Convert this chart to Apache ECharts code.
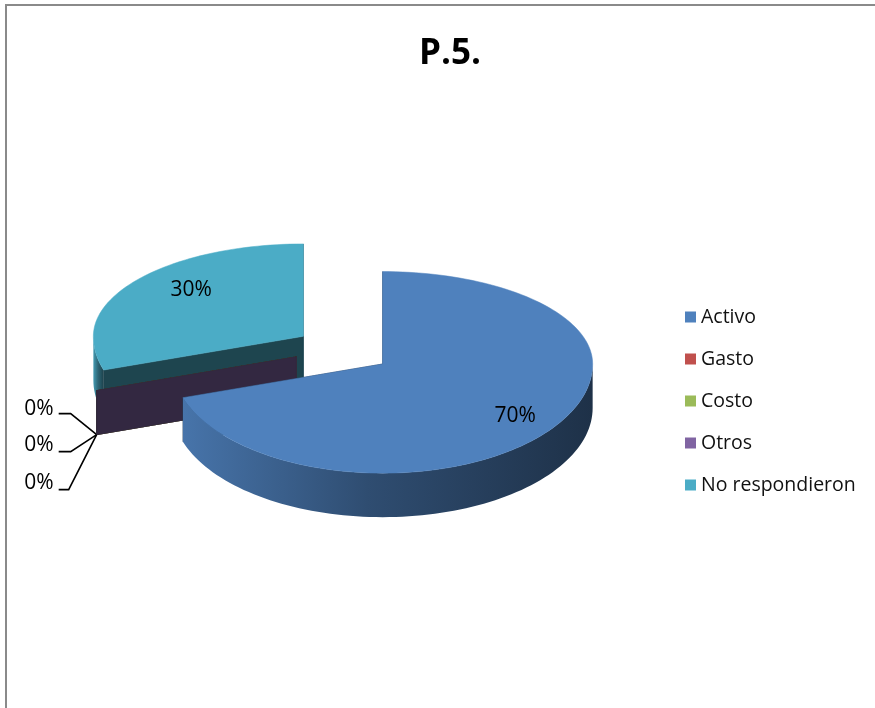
<!DOCTYPE html>
<html>
<head>
<meta charset="utf-8">
<script src="https://cdn.jsdelivr.net/npm/echarts@6/dist/echarts.min.js"></script>
<style>
  html, body { margin: 0; padding: 0; background: #ffffff; }
  #chart { width: 875px; height: 708px; }
</style>
</head>
<body>
<div id="chart"></div>
<script>
// ---- data ----
const title = 'P.5.';
const categories = ['Activo', 'Gasto', 'Costo', 'Otros', 'No respondieron'];
const values = [70, 0, 0, 0, 30];
const colors = ['#4F81BD', '#C0504D', '#9BBB59', '#8064A2', '#4BACC6'];

// ---- style ----
const FONT = '"Open Sans", "Liberation Sans", sans-serif';
const K_BACK = 0.44;       // vertical squash, far half of the tilted pie
const K_FRONT = 0.52;      // vertical squash, near half of the tilted pie
const DEPTH = 44;          // thickness of the pie
const EXPLODE = 49 / 210;  // explosion distance as a fraction of the radius
const labelR = [0.78, 0, 0, 0, 0.66];
const labelDy = [2, 0, 0, 0, -10];
const zOrder = [3, 2, 2, 2, 1];
const zeroTextDy = [-26, 10, 48];
const zeroLineDy = [-21, 17, 55];
const zeroBendDx = [-26, -26, -28];

function shade(hex, f) {
  const n = parseInt(hex.slice(1), 16);
  const r = Math.round(((n >> 16) & 255) * f), g = Math.round(((n >> 8) & 255) * f), b = Math.round((n & 255) * f);
  return 'rgb(' + r + ',' + g + ',' + b + ')';
}

const total = values.reduce((a, b) => a + b, 0);
const starts = [];
let acc = 0;
values.forEach(v => { starts.push(acc / total * 100); acc += v; });

const chart = echarts.init(document.getElementById('chart'));

function makeRender(i) {
  return function (params, api) {
    const start = api.value(1), end = api.value(2);
    const c = api.coord([0, 0]);
    const pt = (r, a) => {
      const p = api.coord([r, a]);
      const dy = p[1] - c[1];
      return [p[0], c[1] + dy * (dy < 0 ? K_BACK : K_FRONT)];
    };
    const mid = (start + end) / 2;
    const m = pt(EXPLODE, mid);
    const off = [m[0] - c[0], m[1] - c[1]];
    const P = (r, a, dy) => { const p = pt(r, a); return [p[0] + off[0], p[1] + off[1] + (dy || 0)]; };
    const arc = (a0, a1, dy) => {
      const pts = [];
      const n = Math.max(2, Math.ceil((a1 - a0) / 0.5));
      for (let k = 0; k <= n; k++) pts.push(P(1, a0 + (a1 - a0) * k / n, dy));
      return pts;
    };
    const color = colors[i];
    const children = [];
    // radial walls
    [start, end].forEach(a => {
      children.push({ type: 'polygon', shape: { points: [P(0, a), P(1, a), P(1, a, DEPTH), P(0, a, DEPTH)] },
        style: { fill: shade(color, 0.4), stroke: shade(color, 0.4), lineWidth: 0.5 } });
    });
    // outer front wall
    const s = Math.max(start, 25), e = Math.min(end, 75);
    if (e > s) {
      const top = arc(s, e, 0), bot = arc(s, e, DEPTH).reverse();
      children.push({ type: 'polygon', shape: { points: top.concat(bot) },
        style: { fill: new echarts.graphic.LinearGradient(1, 0, 0, 0, [
          { offset: 0, color: shade(color, 0.38) },
          { offset: 0.55, color: shade(color, 0.6) },
          { offset: 1, color: shade(color, 0.9) }]) } });
    }
    // top face
    if (end > start) {
      children.push({ type: 'polygon', shape: { points: [P(0, start)].concat(arc(start, end, 0)) },
        style: { fill: color, stroke: color, lineWidth: 0.5 } });
    }
    const pctText = Math.round(values[i] / total * 100) + '%';
    if (values[i] > 0) {
      const lp = P(labelR[i], mid);
      children.push({ type: 'text', style: { text: pctText, x: lp[0], y: lp[1] + labelDy[i], fill: '#000', font: '21px ' + FONT, align: 'center', verticalAlign: 'middle' } });
    } else {
      let zi = 0;
      for (let j = 0; j < i; j++) if (values[j] === 0) zi++;
      const an = P(1, mid, DEPTH);
      const ly = an[1] + zeroLineDy[zi];
      children.push({ type: 'polyline', shape: { points: [[an[0] - 38, ly], [an[0] + zeroBendDx[zi], ly], an] },
        style: { stroke: '#000', lineWidth: 1.6, fill: null } });
      children.push({ type: 'text', style: { text: pctText, x: an[0] - 43, y: an[1] + zeroTextDy[zi], fill: '#000', font: '21px ' + FONT, align: 'right', verticalAlign: 'middle' } });
    }
    return { type: 'group', children: children };
  };
}

const series = categories.map((name, i) => ({
  type: 'custom',
  name: name,
  coordinateSystem: 'polar',
  clip: false,
  z: zOrder[i],
  itemStyle: { color: colors[i] },
  encode: { radius: 0, angle: 1 },
  data: [[1, starts[i], starts[i] + values[i] / total * 100]],
  renderItem: makeRender(i)
}));

chart.setOption({
  animation: false,
  title: {
    text: title, left: 445, top: 32, textAlign: 'center',
    textStyle: { fontFamily: FONT, fontSize: 35, fontWeight: 'bold', color: '#000' }
  },
  graphic: [{
    type: 'rect', shape: { x: 6, y: 5, width: 900, height: 720 },
    style: { fill: null, stroke: '#8a8a8a', lineWidth: 2 }, silent: true
  }],
  legend: {
    orient: 'vertical', left: 680, top: 301,
    data: categories, icon: 'rect', itemWidth: 11, itemHeight: 11, itemGap: 20,
    textStyle: { fontFamily: FONT, fontSize: 19.5, color: '#111', lineHeight: 22 }
  },
  polar: { center: [343, 349], radius: 210 },
  angleAxis: { type: 'value', min: 0, max: 100, startAngle: 90, clockwise: true, show: false },
  radiusAxis: { type: 'value', min: 0, max: 1, show: false },
  series: series
});
</script>
</body>
</html>
